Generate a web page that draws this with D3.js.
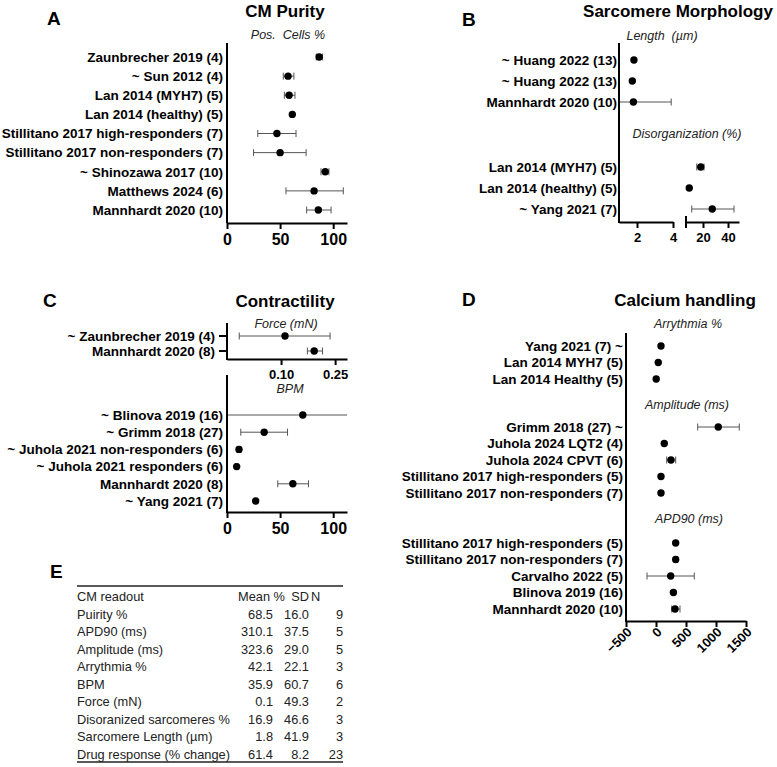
<!DOCTYPE html>
<html>
<head>
<meta charset="utf-8">
<script src="https://cdn.jsdelivr.net/npm/d3@7"></script>
<style>
  body { margin: 0; background: #fff; }
  svg text { font-family: "Liberation Sans", Arial, sans-serif; fill: #000; }
  .lbl { font-weight: bold; font-size: 13.5px; }
  .title { font-weight: bold; font-size: 17px; }
  .letter { font-weight: bold; font-size: 19px; }
  .sub { font-style: italic; font-size: 12.5px; fill: #222; white-space: pre; }
  .axis path, .axis line { stroke: #000; stroke-width: 2px; }
  .axis text { font-weight: bold; font-family: "Liberation Sans", Arial, sans-serif; }
  .err { stroke: #555; stroke-width: 1px; }
  .tbl { font-size: 12.8px; fill: #222; }
</style>
</head>
<body>
<div id="chart"></div>
<script>
// ---- data ----
const purity = [
  {study: "Zaunbrecher 2019 (4)", mean: 86.8, lo: 84, hi: 90},
  {study: "~ Sun 2012 (4)", mean: 57.5, lo: 53, hi: 63},
  {study: "Lan 2014 (MYH7) (5)", mean: 58.5, lo: 54, hi: 64},
  {study: "Lan 2014 (healthy) (5)", mean: 61.5, lo: null, hi: null},
  {study: "Stillitano 2017 high-responders (7)", mean: 47, lo: 29, hi: 65},
  {study: "Stillitano 2017 non-responders (7)", mean: 50, lo: 25, hi: 74.5},
  {study: "~ Shinozawa 2017 (10)", mean: 92.5, lo: 88.5, hi: 96},
  {study: "Matthews 2024 (6)", mean: 82, lo: 55.5, hi: 109.5},
  {study: "Mannhardt 2020 (10)", mean: 86, lo: 75, hi: 98}
];

const sarcLength = [
  {study: "~ Huang 2022 (13)", mean: 1.83, lo: null, hi: null},
  {study: "~ Huang 2022 (13)", mean: 1.74, lo: null, hi: null},
  {study: "Mannhardt 2020 (10)", mean: 1.8, lo: -0.3, hi: 3.9}
];

const sarcDisorg = [
  {study: "Lan 2014 (MYH7) (5)", mean: 18.2, lo: 15, hi: 20.8},
  {study: "Lan 2014 (healthy) (5)", mean: 9.0, lo: null, hi: null},
  {study: "~ Yang 2021 (7)", mean: 27.4, lo: 11, hi: 44.8}
];

const force = [
  {study: "~ Zaunbrecher 2019 (4)", mean: 0.111, lo: -0.016, hi: 0.236},
  {study: "Mannhardt 2020 (8)", mean: 0.192, lo: 0.173, hi: 0.215}
];

const bpm = [
  {study: "~ Blinova 2019 (16)", mean: 71.4, lo: -5, hi: 148},
  {study: "~ Grimm 2018 (27)", mean: 35, lo: 13, hi: 57},
  {study: "~ Juhola 2021 non-responders (6)", mean: 11.3, lo: 9.5, hi: 13.1},
  {study: "~ Juhola 2021 responders (6)", mean: 9.1, lo: 7.8, hi: 10.4},
  {study: "Mannhardt 2020 (8)", mean: 62, lo: 47.8, hi: 76.7},
  {study: "~ Yang 2021 (7)", mean: 27, lo: null, hi: null}
];

const arrythmia = [
  {study: "Yang 2021 (7) ~", mean: 83, lo: null, hi: null},
  {study: "Lan 2014 MYH7 (5)", mean: 38, lo: null, hi: null},
  {study: "Lan 2014 Healthy (5)", mean: 3, lo: null, hi: null}
];

const amplitude = [
  {study: "Grimm 2018 (27) ~", mean: 1038, lo: 695, hi: 1388},
  {study: "Juhola 2024 LQT2 (4)", mean: 138, lo: null, hi: null},
  {study: "Juhola 2024 CPVT (6)", mean: 250, lo: 178, hi: 328},
  {study: "Stillitano 2017 high-responders (5)", mean: 83, lo: null, hi: null},
  {study: "Stillitano 2017 non-responders (7)", mean: 83, lo: null, hi: null}
];

const apd90 = [
  {study: "Stillitano 2017 high-responders (5)", mean: 328, lo: null, hi: null},
  {study: "Stillitano 2017 non-responders (7)", mean: 328, lo: 300, hi: 360},
  {study: "Carvalho 2022 (5)", mean: 245, lo: -150, hi: 638},
  {study: "Blinova 2019 (16)", mean: 290, lo: null, hi: null},
  {study: "Mannhardt 2020 (10)", mean: 317, lo: 262, hi: 400}
];

const purityTicks = [0, 50, 100];
const lengthTicks = [2, 4];
const disorgTicks = [20, 40];
const forceTicks = [0.10, 0.25];
const bpmTicks = [0, 50, 100];
const calciumTicks = [-500, 0, 500, 1000, 1500];

const tableHeader = ["CM readout", "Mean %", "SD", "N"];
const readouts = ["Puirity %", "APD90 (ms)", "Amplitude (ms)", "Arrythmia %", "BPM", "Force (mN)",
                  "Disoranized sarcomeres %", "Sarcomere Length (\u00b5m)", "Drug response (% change)"];
const means = ["68.5", "310.1", "323.6", "42.1", "35.9", "0.1", "16.9", "1.8", "61.4"];
const sds = ["16.0", "37.5", "29.0", "22.1", "60.7", "49.3", "46.6", "41.9", "8.2"];
const ns = ["9", "5", "5", "3", "6", "2", "3", "3", "23"];

// ---- drawing ----
const svg = d3.select("#chart").append("svg")
    .attr("width", 777)
    .attr("height", 767);

// draws labels, error bars and points for one group of rows
function drawRows(rows, yRange, x, labelRight, yTick) {
    let g = svg.append("g");
    let y = d3.scalePoint().domain(d3.range(rows.length)).range(yRange);
    let [d0, d1] = x.domain();
    let clamp = v => Math.max(d0, Math.min(d1, v));

    rows.forEach((d, i) => {
        let yy = y(i);
        g.append("text")
            .attr("class", "lbl")
            .attr("x", labelRight)
            .attr("y", yy)
            .attr("dy", "0.36em")
            .attr("text-anchor", "end")
            .text(d.study);

        if (yTick) {
            g.append("line")
                .attr("x1", x.range()[0] - 8).attr("x2", x.range()[0])
                .attr("y1", yy).attr("y2", yy)
                .attr("stroke", "#000").attr("stroke-width", 2);
        }

        if (d.lo != null) {
            g.append("line").attr("class", "err")
                .attr("x1", x(clamp(d.lo))).attr("x2", x(clamp(d.hi)))
                .attr("y1", yy).attr("y2", yy);
            if (d.lo >= d0) {
                g.append("line").attr("class", "err")
                    .attr("x1", x(d.lo)).attr("x2", x(d.lo))
                    .attr("y1", yy - 3.5).attr("y2", yy + 3.5);
            }
            if (d.hi <= d1) {
                g.append("line").attr("class", "err")
                    .attr("x1", x(d.hi)).attr("x2", x(d.hi))
                    .attr("y1", yy - 3.5).attr("y2", yy + 3.5);
            }
        }

        g.append("circle")
            .attr("cx", x(d.mean))
            .attr("cy", yy)
            .attr("r", 3.7)
            .attr("fill", "#000");
    });
}

function yLine(xPos, y0, y1) {
    svg.append("line")
        .attr("x1", xPos).attr("x2", xPos)
        .attr("y1", y0).attr("y2", y1)
        .attr("stroke", "#000").attr("stroke-width", 2);
}

function xAxis(x, yPos, ticks, fontSize, fmt) {
    let ax = d3.axisBottom(x).tickValues(ticks).tickSize(6).tickSizeOuter(0).tickPadding(5)
        .tickFormat(fmt || d3.format("d"));
    let g = svg.append("g")
        .attr("class", "axis")
        .attr("transform", "translate(0," + yPos + ")")
        .call(ax);
    g.selectAll("text").style("font-size", fontSize + "px");
    return g;
}

function text(cls, x, y, str, anchor) {
    svg.append("text")
        .attr("class", cls)
        .attr("x", x).attr("y", y)
        .attr("text-anchor", anchor || "start")
        .text(str);
}

// Panel A - CM purity
let xA = d3.scaleLinear().domain([0, 113]).range([227, 347]);
text("letter", 47, 25, "A");
text("title", 285, 17, "CM Purity", "middle");
text("sub", 288, 39, "Pos.  Cells %", "middle");
drawRows(purity, [57, 210], xA, 223, false);
yLine(227, 43, 223);
xAxis(xA, 223, purityTicks, 16);

// Panel B - sarcomere morphology
let xLen = d3.scaleLinear().domain([1, 4]).range([619, 673]);
let xDis = d3.scaleLinear().domain([6.4, 48.8]).range([686, 739]);
text("letter", 462, 26, "B");
text("title", 678, 17, "Sarcomere Morphology", "middle");
text("sub", 662, 40, "Length  (\u00b5m)", "middle");
text("sub", 687, 138, "Disorganization (%)", "middle");
drawRows(sarcLength, [60, 102], xLen, 617, false);
drawRows(sarcDisorg, [167, 209], xDis, 617, false);
yLine(619, 43, 223);
xAxis(xLen, 222, lengthTicks, 13);
let gDis = xAxis(xDis, 222, disorgTicks, 13);
gDis.append("line")
    .attr("x1", xDis(xDis.domain()[0])).attr("x2", xDis(xDis.domain()[0]))
    .attr("y1", -6).attr("y2", 6);

// Panel C - contractility
let xForce = d3.scaleLinear().domain([-0.05, 0.283]).range([227, 347]);
let xBpm = d3.scaleLinear().domain([0, 113]).range([227, 347]);
text("letter", 43, 307, "C");
text("title", 285, 307, "Contractility", "middle");
text("sub", 286, 328, "Force (mN)", "middle");
drawRows(force, [336, 351], xForce, 215, true);
yLine(227, 323, 360);
xAxis(xForce, 359, forceTicks, 13, d3.format(".2f"));
text("sub", 290, 393, "BPM", "middle");
drawRows(bpm, [415, 501], xBpm, 223, false);
yLine(227, 375, 513);
xAxis(xBpm, 512, bpmTicks, 16);

// Panel D - calcium handling
let xCa = d3.scaleLinear().domain([-500, 1500]).range([626, 746]);
text("letter", 462, 306, "D");
text("title", 685, 306, "Calcium handling", "middle");
text("sub", 688, 328, "Arrythmia %", "middle");
drawRows(arrythmia, [346, 379], xCa, 623, false);
text("sub", 687, 409, "Amplitude (ms)", "middle");
drawRows(amplitude, [427, 493], xCa, 623, false);
text("sub", 689, 523, "APD90 (ms)", "middle");
drawRows(apd90, [543, 609], xCa, 623, false);
yLine(626, 333, 622);
let gCa = xAxis(xCa, 621, calciumTicks, 13);
gCa.selectAll("text")
    .attr("y", null).attr("dy", null)
    .attr("transform", "translate(6,12) rotate(-45)")
    .style("text-anchor", "end");

// Panel E - summary table
text("letter", 50, 578, "E");
let colX = [77, 273, 309, 343];
let rowY = d3.scaleLinear().domain([0, readouts.length]).range([601, 759]);
svg.append("line").attr("x1", 77).attr("x2", 343).attr("y1", 586).attr("y2", 586)
    .attr("stroke", "#222").attr("stroke-width", 1.5);
svg.append("line").attr("x1", 77).attr("x2", 343).attr("y1", 762).attr("y2", 762)
    .attr("stroke", "#222").attr("stroke-width", 1.5);

text("tbl", colX[0], rowY(0), tableHeader[0]);
text("tbl", 238, rowY(0), tableHeader[1]);
text("tbl", colX[2], rowY(0), tableHeader[2], "end");
text("tbl", 311, rowY(0), tableHeader[3]);

readouts.forEach((r, i) => {
    let yy = rowY(i + 1);
    text("tbl", colX[0], yy, r);
    text("tbl", colX[1], yy, means[i], "end");
    text("tbl", colX[2], yy, sds[i], "end");
    text("tbl", colX[3], yy, ns[i], "end");
});
</script>
</body>
</html>
